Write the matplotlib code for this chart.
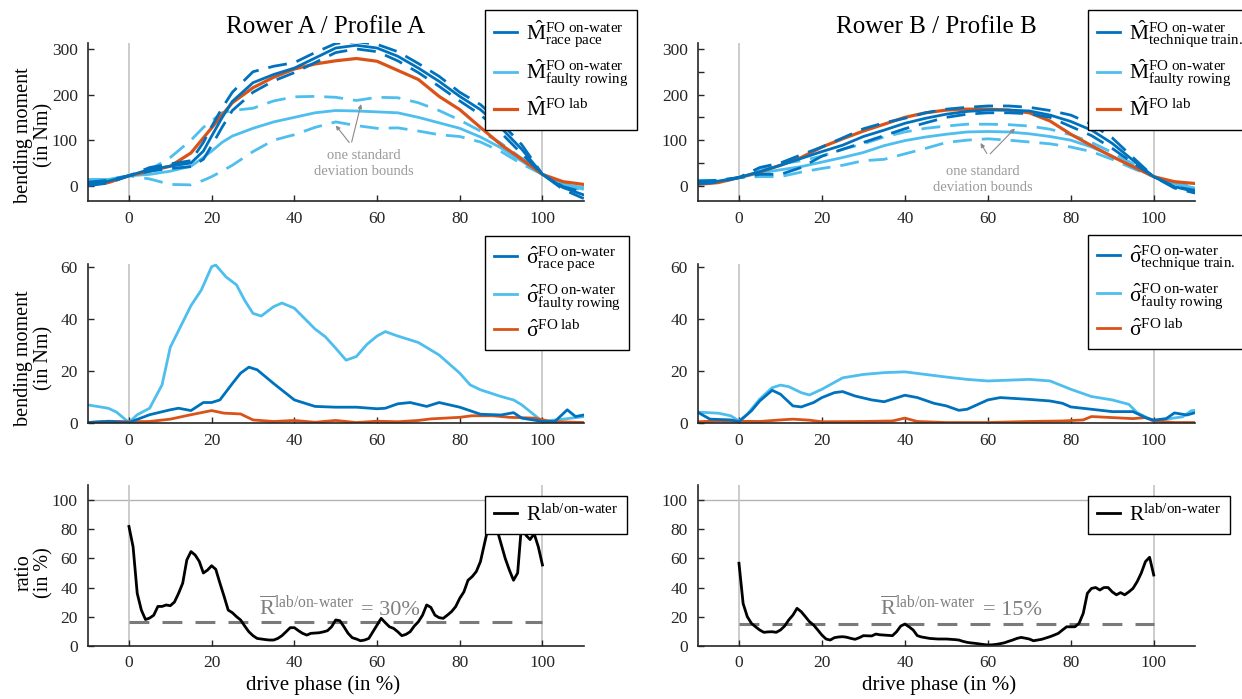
import matplotlib
matplotlib.use("Agg")
import matplotlib.pyplot as plt
import numpy as np

plt.rcParams['font.family'] = 'Liberation Serif'
plt.rcParams['mathtext.fontset'] = 'custom'
plt.rcParams['mathtext.rm'] = 'Liberation Serif'
plt.rcParams['mathtext.it'] = 'Liberation Serif:italic'
plt.rcParams['mathtext.bf'] = 'Liberation Serif:bold'
plt.rcParams['mathtext.default'] = 'rm'

DARK = '#0072BD'
LIGHT = '#4DBEEE'
ORANGE = '#D95319'
GREY_TXT = '#9a9a9a'

# ---------- row 1: mean bending moment (+/- one std) ----------
x_m_a = [-10, -5, 0, 5, 10, 15, 18, 20, 22.5, 25, 30, 35, 40, 45, 50, 55, 60, 65, 70, 75, 80, 85, 90, 95, 100, 105, 110]
rp_mean_a = [4, 10, 22, 36, 43, 50, 76, 109, 149, 185, 226, 244, 258, 280, 302, 308, 302, 284, 258, 229, 196, 167, 127, 80, 25, -4, -20]
rp_hi_a = [8, 12, 22, 40, 48, 55, 95, 130, 170, 205, 250, 262, 270, 292, 312, 316, 310, 294, 268, 240, 205, 178, 138, 90, 25, -2, -14]
rp_lo_a = [0, 6, 22, 32, 38, 42, 58, 88, 128, 165, 205, 230, 248, 270, 292, 300, 294, 274, 248, 218, 186, 156, 116, 70, 25, -8, -28]
lab_a = [3, 7, 22, 32, 43, 72, 105, 127, 155, 182, 215, 238, 256, 267, 274, 279, 273, 253, 233, 196, 167, 128, 90, 58, 25, 9, 3]
fr_mean_a = [14, 14, 22, 25, 32, 43, 62, 76, 95, 109, 126, 140, 150, 160, 165, 164, 162, 160, 150, 138, 126, 107, 83, 54, 25, 3, -4]
fr_hi_a = [14, 14, 22, 35, 62, 100, 128, 142, 160, 165, 170, 186, 195, 196, 194, 187, 194, 193, 182, 165, 144, 120, 93, 60, 25, 2, -10]
fr_lo_a = [8, 8, 22, 15, 3, 2, 12, 20, 32, 45, 75, 100, 112, 128, 140, 132, 126, 127, 120, 112, 108, 96, 75, 48, 25, 5, -8]

x_m_b = [-10, -5, 0, 5, 10, 15, 20, 25, 30, 35, 40, 45, 50, 55, 60, 65, 70, 75, 80, 85, 90, 95, 100, 105, 110]
tt_mean_b = [7, 10, 18, 31, 45, 60, 75, 89, 108, 122, 137, 148, 157, 163, 166, 166, 164, 155, 141, 122, 93, 56, 20, -2, -13]
tt_hi_b = [10, 12, 18, 40, 50, 68, 85, 105, 125, 138, 148, 160, 168, 172, 175, 175, 172, 165, 155, 135, 105, 62, 20, -2, -10]
tt_lo_b = [4, 8, 18, 25, 25, 40, 65, 80, 95, 110, 125, 138, 150, 157, 160, 160, 158, 150, 130, 110, 82, 50, 20, -5, -16]
fr_mean_b = [8, 10, 18, 28, 35, 42, 52, 62, 73, 88, 99, 107, 113, 118, 119, 118, 114, 108, 100, 85, 65, 42, 20, 5, -5]
fr_hi_b = [12, 12, 18, 38, 48, 55, 65, 80, 92, 107, 118, 126, 131, 135, 135, 134, 131, 124, 112, 95, 73, 48, 20, 6, -1]
fr_lo_b = [4, 8, 18, 20, 20, 30, 38, 45, 55, 58, 70, 82, 95, 100, 103, 100, 96, 92, 85, 75, 58, 38, 20, 3, -8]
lab_b = [3, 7, 18, 30, 45, 62, 85, 103, 120, 135, 150, 160, 166, 168, 168, 166, 160, 142, 113, 88, 64, 42, 20, 9, 5]

# ---------- row 2: standard deviation ----------
x_sf_a = [-10, -5, -3, 0, 2, 5, 8, 10, 12.5, 15, 17.5, 20, 21, 23.5, 26, 28, 30, 32, 35, 37, 40, 42.5, 45, 47.5,
          50, 52.5, 55, 57.5, 60, 62, 65, 70, 75, 80, 82.5, 85, 90, 93, 95, 100, 102, 105, 110]
sig_fr_a = [6.8, 5.5, 4, 0, 3, 5.5, 14.5, 29, 37, 45, 51, 60, 60.6, 56, 53, 47, 42, 41, 44.6, 46, 44, 40, 36, 33,
            28.6, 24, 25.4, 30, 33.3, 35, 33.3, 30.8, 26, 19, 14.5, 12.6, 10, 8.7, 6.8, 0.4, 0.8, 1.3, 2.3]
x_sr_a = [-10, -5, 0, 5, 10, 12, 15, 18, 20, 22, 25, 27, 29, 31, 35, 40, 45, 50, 55, 60, 62, 65, 68, 72, 75, 80,
          85, 90, 93, 95, 100, 103, 106, 108, 110]
sig_rp_a = [0, 0.4, 0, 3, 4.9, 5.5, 4.6, 7.7, 7.7, 8.7, 15, 19, 21.3, 20.3, 15, 8.7, 6.2, 5.9, 5.9, 5.3, 5.5, 7.2,
            7.7, 6.2, 7.7, 5.9, 3.2, 2.9, 3.8, 1.7, 0.4, 0.4, 4.9, 2.3, 2.9]
x_sl_a = [-10, -5, 0, 5, 10, 15, 20, 23, 27, 30, 35, 40, 45, 50, 55, 60, 65, 70, 73, 80, 83, 88, 92, 98, 102, 110]
sig_lab_a = [0, 0.5, 0.3, 0.4, 1.3, 3, 4.6, 3.6, 3.3, 1, 0.4, 0.8, 0.1, 0.8, 0, 0.5, 0.3, 0.8, 1.4, 2, 2.6, 2.6,
             2, 1.7, 0.4, 0]

x_sf_b = [-10, -5, -2, 0, 2, 5, 8, 10, 12, 15, 17, 20, 25, 30, 35, 40, 45, 50, 55, 60, 65, 70, 75, 80, 85, 90,
          94, 96, 100, 103, 107, 109, 110]
sig_fr_b = [4, 3.6, 2.6, 0.6, 3.2, 9, 13.4, 14.4, 13.8, 11.5, 10.6, 12.8, 17.2, 18.5, 19.2, 19.5, 18.5, 17.5,
            16.6, 16, 16.3, 16.6, 16, 12.8, 10, 8.7, 7, 3.8, 0.6, 1.3, 2.2, 4.5, 4.7]
x_st_b = [-10, -7, -2, 0, 3, 5, 8, 10, 13, 15, 18, 20, 23, 25, 28, 32, 35, 40, 43, 47, 50, 53, 55, 60, 63, 70,
          75, 78, 80, 85, 90, 95, 98, 100, 103, 105, 108, 110]
sig_tt_b = [4, 1.3, 1, 0.3, 4.5, 8.3, 12.4, 10.9, 6.4, 6, 7.7, 9.6, 11.5, 11.9, 10.2, 8.7, 8, 10.5, 9.6, 7.4,
            6.4, 4.7, 5.1, 8.7, 9.6, 8.9, 8.3, 7.4, 6, 5.1, 4.2, 4.2, 1.9, 0.9, 1.5, 3.7, 2.9, 3.8]
x_sl_b = [-10, -5, 0, 5, 10, 13, 17, 20, 30, 37, 40, 43, 50, 60, 70, 78, 83, 85, 90, 95, 98, 100, 105, 110]
sig_lab_b = [0.3, 0.6, 0.5, 0.4, 1, 1.3, 0.9, 0.3, 0.4, 0.6, 1.7, 0.4, 0, 0, 0.4, 0.6, 1, 2.3, 1.9, 1.5, 1.9,
             0.6, 0, 0]

# ---------- row 3: ratio lab / on-water (x = 0..100) ----------
ratio_a = [82, 68, 36, 24.5, 18, 19, 21, 27, 27, 28, 27.5, 30, 36, 43, 59, 64.7, 62.4, 58, 50, 52,
           55, 52.5, 43, 34, 24.5, 22.7, 20, 17.7, 13.5, 9.6, 6.9, 5, 4.6, 4.2, 3.9, 3.9, 5, 6.9, 9.6, 12.4,
           12.4, 10.3, 8.5, 7.3, 8.5, 8.7, 8.9, 9.5, 10.3, 13, 17.7, 17.2, 13, 8.5, 5.5, 4.6, 3.4, 3.9, 5, 9.6,
           14.2, 18.8, 15.8, 13, 11.9, 9.6, 6.9, 7.8, 9.6, 13.5, 16.5, 21, 28, 26.4, 21, 19.3, 18.8, 21, 23.4, 26.8,
           32.6, 37, 45, 47.5, 51, 57.8, 70.4, 83, 92, 80, 70, 60, 52, 45, 50, 85, 76, 73, 77, 68, 55.5]
ratio_b = [56.7, 29, 20, 15.4, 13, 10.8, 9.2, 9.5, 9.6, 9.2, 10.8, 13.5, 17.7, 21, 25.7, 23.4, 20, 16.5, 14.2, 10.8,
           7.3, 4.6, 3.9, 5.5, 6, 6.2, 5.8, 5, 4.4, 5.5, 6.9, 6.8, 6.7, 8, 7.5, 7.3, 7.1, 6.9, 9.6, 13.5,
           14.9, 13, 10.8, 6.9, 6, 5.5, 5, 4.8, 4.6, 4.6, 4.6, 4.4, 4.2, 3.9, 3, 2.3, 1.9, 1.6, 1.2, 0.8,
           0.5, 0.6, 0.9, 1.4, 2, 3, 3.9, 5, 5.7, 5.2, 4.6, 3.4, 3.9, 4.4, 5.3, 6.2, 7.3, 8.5, 10.8, 13,
           13, 13, 15.4, 22.2, 36, 39.4, 40, 38.3, 40, 40, 37, 35, 36.5, 35, 37, 39.4, 44, 50, 57.8, 60.8, 48.6]
x_ratio = np.arange(0, 101)
ratio_mean = [16, 15]
ratio_text = ['= 30%', '= 15%']

titles = ['Rower A / Profile A', 'Rower B / Profile B']

lbl_m = [
    [r'$\hat{\mathrm{M}}^{\text{FO on-water}}_{\text{race pace}}$',
     r'$\hat{\mathrm{M}}^{\text{FO on-water}}_{\text{faulty rowing}}$',
     r'$\hat{\mathrm{M}}^{\text{FO lab}}$'],
    [r'$\hat{\mathrm{M}}^{\text{FO on-water}}_{\text{technique train.}}$',
     r'$\hat{\mathrm{M}}^{\text{FO on-water}}_{\text{faulty rowing}}$',
     r'$\hat{\mathrm{M}}^{\text{FO lab}}$'],
]
lbl_s = [
    [r'$\hat{\sigma}^{\text{FO on-water}}_{\text{race pace}}$',
     r'$\hat{\sigma}^{\text{FO on-water}}_{\text{faulty rowing}}$',
     r'$\hat{\sigma}^{\text{FO lab}}$'],
    [r'$\hat{\sigma}^{\text{FO on-water}}_{\text{technique train.}}$',
     r'$\hat{\sigma}^{\text{FO on-water}}_{\text{faulty rowing}}$',
     r'$\hat{\sigma}^{\text{FO lab}}$'],
]
lbl_r = r'$\mathrm{R}^{\text{lab/on-water}}$'

fig = plt.figure(figsize=(12.42, 6.99), dpi=100)
W, H = 1242.0, 699.0

col_px = [(87.6, 583.8), (697.5, 1195.2)]
row_px = [(43, 201.3), (264.3, 423.3), (485, 645.7)]

axes = []
for r in range(3):
    row = []
    for c in range(2):
        x0, x1 = col_px[c]
        y0, y1 = row_px[r]
        ax = fig.add_axes([x0 / W, 1 - y1 / H, (x1 - x0) / W, (y1 - y0) / H])
        row.append(ax)
    axes.append(row)

dash = (0, (6.8, 3.6))
lw = 2.0


def style(ax, ylim, yticks):
    ax.set_xlim(-10, 110)
    ax.set_ylim(*ylim)
    ax.set_xticks([0, 20, 40, 60, 80, 100])
    ax.set_yticks(yticks)
    for s in ['top', 'right']:
        ax.spines[s].set_visible(False)
    for s in ['left', 'bottom']:
        ax.spines[s].set_color('#262626')
        ax.spines[s].set_linewidth(1.2)
    ax.tick_params(direction='in', length=4, width=1, colors='#262626', labelsize=12.5, pad=7)
    ax.axvline(0, color='#c4c4c4', lw=1.2, zorder=0)
    ax.axvline(100, color='#c4c4c4', lw=1.2, zorder=0)


def place_legend(ax, handles, labels, px, py, spacing):
    leg = ax.legend(handles, labels, loc='upper left', bbox_to_anchor=(px / W, 1 - py / H),
                    bbox_transform=fig.transFigure,
                    fontsize=15.5, frameon=True, fancybox=False, framealpha=1, edgecolor='black',
                    handlelength=1.1, handletextpad=0.4, borderpad=0.4, labelspacing=spacing,
                    borderaxespad=0)
    leg.get_frame().set_linewidth(1.0)
    leg.set_zorder(10)
    return leg


# row 1
m_sets = [
    (x_m_a, rp_mean_a, rp_hi_a, rp_lo_a, fr_mean_a, fr_hi_a, fr_lo_a, lab_a),
    (x_m_b, tt_mean_b, tt_hi_b, tt_lo_b, fr_mean_b, fr_hi_b, fr_lo_b, lab_b),
]
for c in range(2):
    ax = axes[0][c]
    xm, dm, dh, dl, fm, fh, fl, lb = m_sets[c]
    ax.plot(xm, fh, color=LIGHT, lw=lw, ls=dash)
    ax.plot(xm, fl, color=LIGHT, lw=lw, ls=dash)
    h2, = ax.plot(xm, fm, color=LIGHT, lw=lw)
    h3, = ax.plot(xm, lb, color=ORANGE, lw=lw + 0.3)
    ax.plot(xm, dh, color=DARK, lw=lw, ls=dash)
    ax.plot(xm, dl, color=DARK, lw=lw, ls=dash)
    h1, = ax.plot(xm, dm, color=DARK, lw=lw)
    if c == 0:
        style(ax, (-34, 313), [0, 100, 200, 300])
    else:
        style(ax, (-34, 313), [0, 50, 100, 150, 200, 250, 300])
        ax.set_yticklabels(['0', '', '100', '', '200', '', '300'])
    place_legend(ax, [h1, h2, h3], lbl_m[c], [485, 1088][c], 10, 0.38)
    fig.text([326, 936.5][c] / W, 1 - 33 / H, titles[c], fontsize=18, ha='center', va='baseline')

# std-dev annotations
ax = axes[0][0]
ax.text(56.7, 48, 'one standard\ndeviation bounds', color=GREY_TXT, fontsize=10.5, ha='center', va='center',
        linespacing=1.3)
for tx, ty in [(56.3, 185), (49.6, 137)]:
    ax.annotate('', xy=(tx, ty), xytext=(53.7, 90),
                arrowprops=dict(arrowstyle='-|>', color='#8a8a8a', lw=0.8, mutation_scale=6))
ax = axes[0][1]
ax.text(58.8, 13, 'one standard\ndeviation bounds', color=GREY_TXT, fontsize=10.5, ha='center', va='center',
        linespacing=1.3)
for tx, ty in [(67, 130), (57.9, 99)]:
    ax.annotate('', xy=(tx, ty), xytext=(60.1, 65.7),
                arrowprops=dict(arrowstyle='-|>', color='#8a8a8a', lw=0.8, mutation_scale=6))

# row 2
s_sets = [
    ((x_sr_a, sig_rp_a), (x_sf_a, sig_fr_a), (x_sl_a, sig_lab_a)),
    ((x_st_b, sig_tt_b), (x_sf_b, sig_fr_b), (x_sl_b, sig_lab_b)),
]
for c in range(2):
    ax = axes[1][c]
    (xd, yd), (xf, yf), (xl, yl) = s_sets[c]
    h2, = ax.plot(xf, yf, color=LIGHT, lw=lw)
    h3, = ax.plot(xl, yl, color=ORANGE, lw=lw)
    h1, = ax.plot(xd, yd, color=DARK, lw=lw)
    style(ax, (-0.3, 60.9), [0, 20, 40, 60])
    place_legend(ax, [h1, h2, h3], lbl_s[c], [485, 1088][c], [236, 235][c], 0.38)

# row 3
ratios = [ratio_a, ratio_b]
for c in range(2):
    ax = axes[2][c]
    ax.plot([-10, 100], [100, 100], color='#b4b4b4', lw=1.0, zorder=0)
    ax.plot([0, 100], [ratio_mean[c]] * 2, color='#7a7a7a', lw=2.2, ls=(0, (6.5, 4.3)))
    h, = ax.plot(x_ratio, ratios[c], color='black', lw=2.0)
    style(ax, (0, 110.5), [0, 20, 40, 60, 80, 100])
    place_legend(ax, [h], [lbl_r], [485, 1088][c], 496, 0.3)
    ax.text([31.4, 34][c], 21, r'$\overline{\mathrm{R}}^{\text{lab/on-water}}$', color='#7f7f7f', fontsize=16,
            va='baseline', ha='left')
    ax.text([56.2, 58.9][c], 21, ratio_text[c], color='#7f7f7f', fontsize=16, va='baseline', ha='left')
    fig.text([323, 939][c] / W, 1 - 685 / H, 'drive phase (in %)', fontsize=15, ha='center', va='center')

# y labels (left column only)
ylab = ['bending moment\n(in Nm)', 'bending moment\n(in Nm)', 'ratio\n(in %)']
ylab_y = [135, 358, 573]
for r in range(3):
    fig.text(34 / W, 1 - ylab_y[r] / H, ylab[r], fontsize=14.5, rotation=90, ha='center', va='center',
             multialignment='center', linespacing=1.1)

fig.savefig('out.png', dpi=100)
